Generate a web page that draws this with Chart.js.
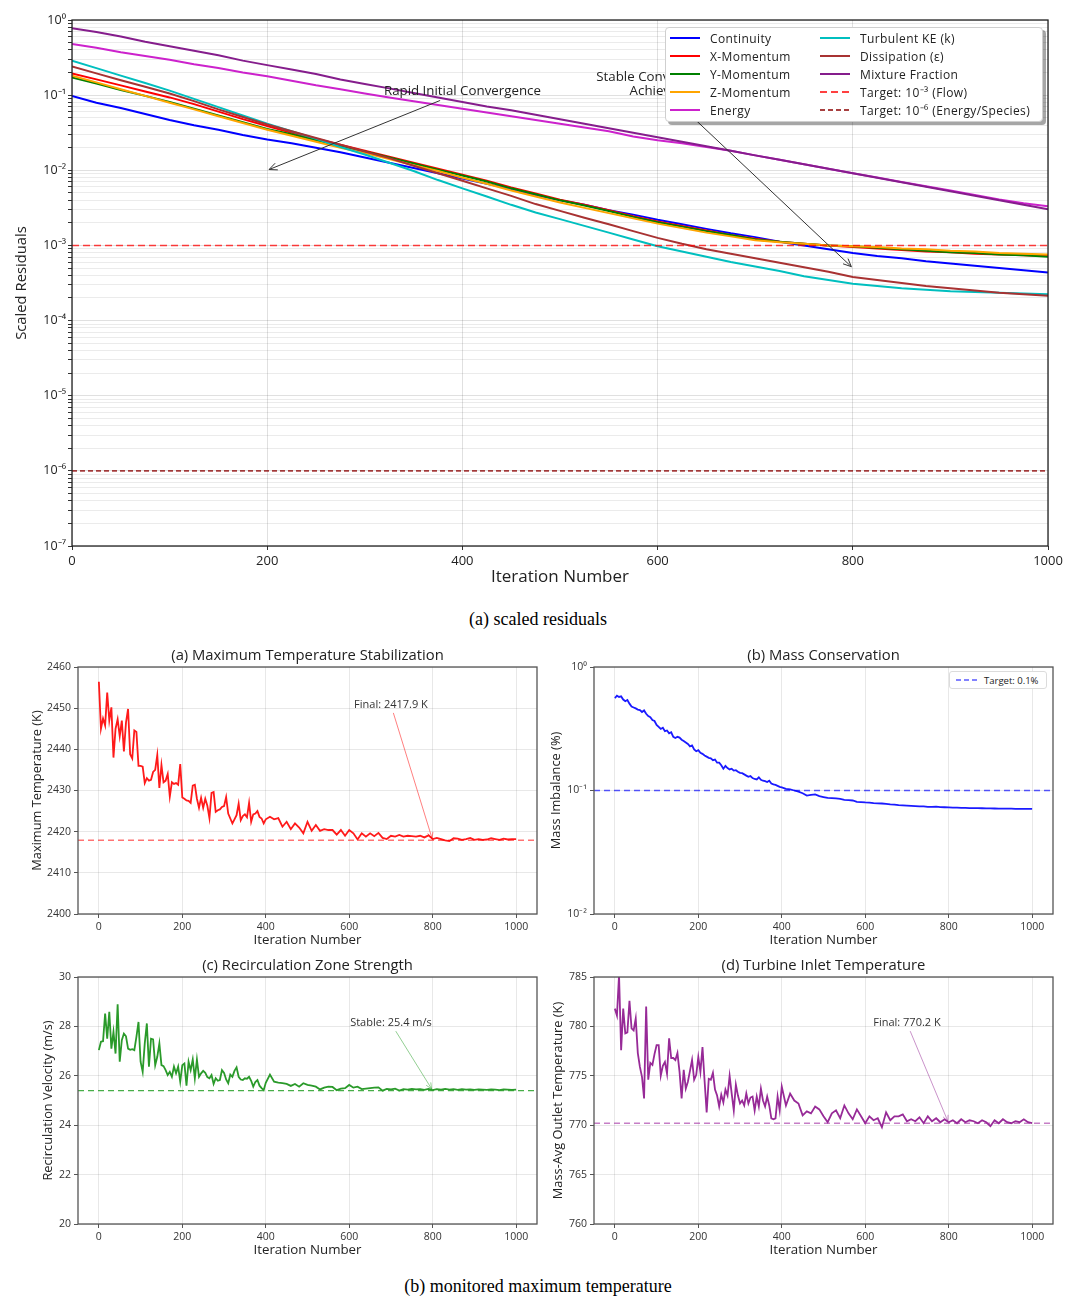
<!DOCTYPE html>
<html>
<head>
<meta charset="utf-8">
<script src="https://cdn.jsdelivr.net/npm/chart.js@4.4.1/dist/chart.umd.min.js"></script>
<style>
html,body{margin:0;padding:0;background:#fff;}
body{width:1076px;height:1301px;position:relative;overflow:hidden;font-family:"Open Sans",sans-serif;}
.wrap{position:absolute;}
canvas{display:block;}
.cap{position:absolute;left:0;width:1076px;text-align:center;font-family:"Liberation Serif","Times New Roman",serif;font-size:18px;line-height:20px;color:#000;}
.legend{position:absolute;background:#fff;box-sizing:border-box;}
.lg-item{position:absolute;display:flex;align-items:center;white-space:nowrap;color:#222;}
.lg-item svg{display:block;flex:none;}
</style>
</head>
<body>
<div class="wrap" style="left:0;top:0;"><canvas id="residuals" width="1076" height="600" style="width:1076px;height:600px;"></canvas></div>
<div class="legend" id="resLegend" style="left:665px;top:27px;width:378px;height:95px;border:1px solid #cfcfcf;border-radius:4px;box-shadow:3px 3px 0 rgba(0,0,0,0.35);"></div>
<div class="cap" style="top:609px;">(a) scaled residuals</div>

<div class="wrap" style="left:0;top:645px;"><canvas id="pA" width="545" height="305" style="width:545px;height:305px;"></canvas></div>
<div class="wrap" style="left:536px;top:645px;"><canvas id="pB" width="540" height="305" style="width:540px;height:305px;"></canvas></div>
<div class="legend" id="massLegend" style="left:949px;top:671px;width:98px;height:18px;border:1px solid #dcdcdc;border-radius:3px;"></div>
<div class="wrap" style="left:0;top:955px;"><canvas id="pC" width="545" height="305" style="width:545px;height:305px;"></canvas></div>
<div class="wrap" style="left:536px;top:955px;"><canvas id="pD" width="540" height="305" style="width:540px;height:305px;"></canvas></div>
<div class="cap" style="top:1276px;">(b) monitored maximum temperature</div>

<script>
// ================= DATA: (a) scaled residuals =================
const residualIterations = [0,25,50,75,100,125,150,175,200,225,250,275,300,325,350,375,400,425,450,475,500,
  525,550,575,600,625,650,675,700,725,750,775,800,825,850,875,900,925,950,975,1000];

const continuity = [0.0977,0.0794,0.0676,0.0562,0.0468,0.0398,0.0347,0.0295,0.0257,0.0229,0.0200,
  0.0174,0.0148,0.0126,0.0107,0.00912,0.00776,0.00661,0.00562,0.00468,0.00398,
  0.00347,0.00295,0.00257,0.00219,0.00191,0.00166,0.00145,0.00129,0.00112,0.00100,
  0.000891,0.000794,0.000724,0.000676,0.000617,0.000575,0.000537,0.000501,0.000468,0.000437];
const xMomentum = [0.195,0.162,0.135,0.112,0.0933,0.0759,0.0603,0.0479,0.0389,0.0316,0.0263,
  0.0219,0.0182,0.0151,0.0126,0.0105,0.00871,0.00724,0.00589,0.00490,0.00407,
  0.00347,0.00295,0.00245,0.00209,0.00182,0.00158,0.00138,0.00123,0.00112,0.00105,
  0.00100,0.000955,0.000912,0.000871,0.000832,0.000813,0.000776,0.000759,0.000741,0.000724];
const yMomentum = [0.172,0.143,0.117,0.0977,0.0813,0.0661,0.0537,0.0437,0.0355,0.0302,0.0251,
  0.0209,0.0178,0.0148,0.0123,0.0102,0.00851,0.00708,0.00575,0.00479,0.00398,
  0.00339,0.00288,0.00240,0.00204,0.00178,0.00155,0.00138,0.00120,0.00112,0.00105,
  0.00100,0.000977,0.000933,0.000891,0.000851,0.000813,0.000794,0.000759,0.000741,0.000708];
const zMomentum = [0.182,0.148,0.120,0.0977,0.0794,0.0646,0.0525,0.0427,0.0347,0.0288,0.0240,
  0.0200,0.0170,0.0141,0.0117,0.00977,0.00794,0.00661,0.00537,0.00447,0.00372,
  0.00316,0.00269,0.00229,0.00195,0.00170,0.00148,0.00132,0.00117,0.00110,0.00105,
  0.00100,0.000977,0.000955,0.000912,0.000891,0.000851,0.000832,0.000794,0.000776,0.000759];
const energy = [0.479,0.427,0.372,0.331,0.295,0.257,0.229,0.200,0.178,0.155,0.135,
  0.120,0.105,0.0933,0.0832,0.0741,0.0661,0.0589,0.0525,0.0468,0.0417,
  0.0372,0.0331,0.0282,0.0251,0.0229,0.0204,0.0182,0.0158,0.0138,0.0120,
  0.0105,0.00912,0.00800,0.00700,0.00615,0.00537,0.00470,0.00410,0.00365,0.00331];
const turbulentKE = [0.288,0.229,0.182,0.145,0.115,0.0891,0.0692,0.0537,0.0417,0.0331,0.0263,
  0.0204,0.0162,0.0126,0.00977,0.00741,0.00575,0.00447,0.00347,0.00275,0.00224,
  0.00182,0.00148,0.00120,0.000977,0.000832,0.000708,0.000603,0.000525,0.000457,0.000389,
  0.000347,0.000309,0.000288,0.000269,0.000257,0.000245,0.000240,0.000234,0.000229,0.000224];
const dissipation = [0.240,0.195,0.158,0.129,0.105,0.0832,0.0646,0.0513,0.0407,0.0331,0.0269,
  0.0219,0.0178,0.0145,0.0115,0.00912,0.00724,0.00575,0.00457,0.00355,0.00288,
  0.00234,0.00191,0.00155,0.00126,0.00105,0.000891,0.000776,0.000676,0.000589,0.000513,
  0.000447,0.000380,0.000347,0.000316,0.000288,0.000269,0.000251,0.000234,0.000224,0.000214];
const mixtureFraction = [0.776,0.692,0.603,0.513,0.447,0.389,0.339,0.288,0.251,0.219,0.191,
  0.162,0.141,0.123,0.107,0.0933,0.0813,0.0708,0.0631,0.0550,0.0479,
  0.0417,0.0363,0.0316,0.0275,0.0240,0.0209,0.0182,0.0158,0.0138,0.0120,
  0.0105,0.00912,0.00794,0.00692,0.00603,0.00525,0.00457,0.00398,0.00347,0.00302];

const residualNames = ['Continuity','X-Momentum','Y-Momentum','Z-Momentum','Energy',
  'Turbulent KE (k)','Dissipation (\u03b5)','Mixture Fraction'];
const residualColors = ['#0000ff','#ff0000','#008000','#ffa500','#cc22cc','#00bfbf','#a83232','#851d8c'];
const residualSeries = [continuity,xMomentum,yMomentum,zMomentum,energy,turbulentKE,dissipation,mixtureFraction];

const targetNames = ['Target: 10\u207b\u00b3 (Flow)','Target: 10\u207b\u2076 (Energy/Species)'];
const targetValues = [1e-3, 1e-6];
const targetColors = ['rgba(255,0,0,0.75)','rgba(139,0,0,0.75)'];
const targetDashes = [[7,4],[5,3]];

const residualXRange = [0, 1000];
const residualYRange = [1e-7, 1];
const iterationTicks = [0,200,400,600,800,1000];
const residualDecades = [-7,-6,-5,-4,-3,-2,-1];
const residualMantissas = [1,2,3,4,5,6,7,8,9];

const residualNotes = [
  {text:'Rapid Initial Convergence', at:[400, 0.1], target:[200, 1e-2]},
  {text:'Stable Convergence\nAchieved', at:[600, 0.1], target:[800, 5e-4]}
];

// ================= DATA: (b) monitored panels =================
const panelXRange = [-50, 1050];
const panelXTicks = [0,200,400,600,800,1000];

const maxTemperature = [
  2456.4,2445.0,2447.5,2445.8,2453.8,2447.0,2450.2,2438.0,2445.0,2447.3,
  2443.2,2447.0,2439.5,2446.5,2449.8,2438.8,2437.8,2444.6,2444.2,2436.0,
  2436.0,2435.8,2431.8,2433.0,2432.4,2432.6,2434.5,2435.0,2438.6,2430.6,
  2436.2,2432.0,2432.4,2434.0,2428.5,2432.0,2431.6,2431.8,2431.4,2436.4,
  2428.3,2428.0,2427.6,2427.5,2427.0,2431.2,2431.4,2428.0,2425.8,2428.2,
  2425.8,2428.0,2426.3,2423.3,2429.4,2429.6,2424.8,2425.2,2425.4,2426.0,
  2426.2,2428.4,2424.4,2423.2,2422.0,2423.0,2424.0,2426.8,2422.8,2423.8,
  2424.2,2423.5,2427.0,2422.4,2424.2,2424.4,2425.0,2423.6,2423.2,2422.0,
  2423.0,
  2423.6,2423.0,2423.3,2421.2,2422.4,2420.6,2422.0,2421.0,2419.6,2422.4,
  2420.2,2421.6,2420.2,2420.6,2420.4,2420.4,2419.3,2420.4,2419.0,2420.4,
  2419.6,2418.1,2419.6,2418.8,2419.6,2418.9,2419.7,2418.5,2418.2,2419.0,
  2418.8,2419.2,2418.8,2419.0,2418.9,2418.8,2419.0,2418.6,2419.1,2418.2,
  2418.5,2418.2,2417.9,2417.7,2418.4,2418.3,2418.0,2418.2,2418.5,2418.0,
  2418.2,2418.0,2418.1,2418.4,2418.2,2418.0,2418.3,2418.1,2418.2,2418.2];
const massImbalance = [
  0.560,0.585,0.572,0.578,0.545,0.528,0.540,0.505,0.478,0.470,
  0.462,0.452,0.448,0.432,0.445,0.418,0.400,0.392,0.372,0.365,
  0.340,0.328,0.315,0.322,0.302,0.306,0.290,0.296,0.272,0.266,
  0.272,0.268,0.258,0.252,0.245,0.238,0.228,0.232,0.215,0.208,
  0.212,0.202,0.198,0.192,0.188,0.184,0.182,0.176,0.178,0.168,
  0.168,0.160,0.150,0.158,0.152,0.148,0.150,0.145,0.146,0.142,
  0.139,0.138,0.135,0.132,0.129,0.131,0.126,0.124,0.123,0.128,
  0.122,0.120,0.119,0.117,0.120,0.114,0.112,0.111,0.109,0.107,
  0.106,
  0.103,0.102,0.100,0.098,0.095,0.091,0.092,0.093,0.090,0.0885,
  0.0870,0.0868,0.0862,0.0855,0.0840,0.0835,0.0830,0.0810,0.0805,0.0800,
  0.0798,0.0790,0.0788,0.0785,0.0780,0.0772,0.0768,0.0762,0.0758,0.0755,
  0.0752,0.0748,0.0744,0.0745,0.0738,0.0736,0.0740,0.0734,0.0732,0.0730,
  0.0728,0.0727,0.0724,0.0722,0.0720,0.0721,0.0719,0.0718,0.0716,0.0717,
  0.0715,0.0714,0.0713,0.0713,0.0712,0.0711,0.0711,0.0710,0.0710,0.0709];
const recirculationVelocity = [
  27.04,27.38,27.40,28.52,27.50,28.59,27.10,27.78,26.90,28.90,
  26.57,27.44,27.71,27.60,27.10,27.05,27.08,27.04,27.58,28.18,
  26.57,26.16,27.31,28.12,26.37,27.50,27.47,26.43,26.77,27.31,
  26.43,26.39,26.23,26.03,26.16,25.96,26.37,26.10,26.37,25.76,
  26.43,26.50,25.60,26.57,26.23,26.66,25.90,26.66,25.96,26.10,
  26.20,26.12,25.95,25.90,26.03,25.67,25.90,25.80,25.83,26.23,
  26.12,25.85,25.70,26.05,25.96,26.20,26.34,25.96,25.85,25.83,
  25.90,25.88,25.96,25.80,25.56,25.75,25.83,25.60,25.50,25.42,
  25.72,
  26.05,25.76,25.72,25.70,25.67,25.59,25.67,25.56,25.70,25.63,
  25.60,25.56,25.45,25.52,25.56,25.55,25.42,25.48,25.50,25.63,
  25.52,25.56,25.46,25.48,25.50,25.52,25.53,25.40,25.47,25.45,
  25.48,25.40,25.46,25.44,25.47,25.45,25.46,25.43,25.47,25.42,
  25.46,25.44,25.47,25.44,25.46,25.43,25.46,25.44,25.45,25.43,
  25.45,25.44,25.43,25.45,25.44,25.42,25.45,25.44,25.43,25.44];
const outletTemperature = [
  781.8,781.1,785.2,777.6,781.8,779.3,779.4,782.6,779.8,779.6,
  780.8,777.3,775.9,774.9,772.7,782.0,774.6,776.3,776.1,777.2,
  778.1,778.1,775.0,776.0,776.4,775.2,778.8,776.8,776.8,776.6,
  777.3,775.4,772.7,775.6,773.7,774.4,775.5,776.6,774.6,775.1,
  776.9,775.4,777.9,774.5,771.3,774.7,774.6,775.3,773.6,773.0,
  771.9,773.1,772.3,773.6,773.0,775.0,773.2,771.5,774.1,773.0,
  772.2,772.5,772.0,773.2,772.2,772.8,772.9,771.5,772.9,771.9,
  773.7,772.5,771.9,772.9,772.0,770.7,770.6,770.7,772.9,771.5,
  773.9,
  772.0,773.2,772.5,772.2,771.0,771.4,771.2,771.9,771.6,770.9,
  770.3,771.2,771.5,770.7,772.0,771.2,770.6,771.6,770.9,770.2,
  770.9,770.5,770.7,769.8,771.3,770.5,770.9,770.9,771.1,770.4,
  770.6,770.4,770.8,770.2,770.9,770.4,770.7,770.3,770.6,770.3,
  770.5,770.2,770.6,770.3,770.5,770.4,770.2,770.5,770.3,769.9,
  770.5,770.2,770.6,770.3,770.2,770.4,770.3,770.6,770.3,770.2];

// iteration grid of the monitors: every 5 up to 400, then every 10
const panelIterations = [];
for (let i = 0; i <= 400; i += 5) panelIterations.push(i);
for (let i = 410; i <= 1000; i += 10) panelIterations.push(i);

const maxTempTicks = [2400,2410,2420,2430,2440,2450,2460];
const massTicks = [0.01, 0.1, 1];
const velocityTicks = [20,22,24,26,28,30];
const outletTicks = [760,765,770,775,780,785];

const finalMaxTemp = 2417.9;
const massTarget = 0.1;
const stableVelocity = 25.4;
const finalOutletTemp = 770.2;

// ================= helpers / plugins =================
const FONT = "'Open Sans', sans-serif";
Chart.defaults.font.family = FONT;
Chart.defaults.color = '#262626';

const SUP = {'-':'\u207b','0':'\u2070','1':'\u00b9','2':'\u00b2','3':'\u00b3','4':'\u2074','5':'\u2075','6':'\u2076','7':'\u2077','8':'\u2078','9':'\u2079'};
function powerLabel(v) {
  const e = Math.log10(v), r = Math.round(e);
  if (Math.abs(e - r) > 1e-6) return '';
  return '10' + String(r).split('').map(c => SUP[c]).join('');
}
const isPower = v => { const e = Math.log10(v); return Math.abs(e - Math.round(e)) < 1e-6; };

const residualTicks = [];
residualDecades.forEach(d => residualMantissas.forEach(m => residualTicks.push(Number((m * Math.pow(10, d)).toPrecision(6)))));
residualTicks.push(residualYRange[1]);

const framePlugin = {
  id: 'frame',
  afterDatasetsDraw(chart, args, o) {
    const {ctx, chartArea: a} = chart;
    ctx.save();
    ctx.strokeStyle = o.color || '#222';
    ctx.lineWidth = o.width || 1.2;
    ctx.strokeRect(a.left, a.top, a.right - a.left, a.bottom - a.top);
    ctx.restore();
  }
};

const panelTitlePlugin = {
  id: 'panelTitle',
  afterDraw(chart, args, o) {
    if (!o.text) return;
    const {ctx, chartArea: a} = chart;
    ctx.save();
    ctx.font = `${o.size}px ${FONT}`;
    ctx.fillStyle = '#222';
    ctx.textAlign = 'center';
    ctx.textBaseline = 'middle';
    ctx.fillText(o.text, (a.left + a.right) / 2, a.top - o.offset);
    ctx.restore();
  }
};

const notesPlugin = {
  id: 'notes',
  afterDatasetsDraw(chart, args, o) {
    const items = o.items || [];
    const {ctx, scales} = chart;
    items.forEach(n => {
      const size = n.size;
      ctx.save();
      ctx.font = `${size}px ${FONT}`;
      const lines = n.text.split('\n');
      const lh = size * 1.1;
      const tx = scales.x.getPixelForValue(n.at[0]);
      const ty = scales.y.getPixelForValue(n.at[1]);
      const w = Math.max(...lines.map(l => ctx.measureText(l).width));
      const top = ty - (lines.length - 1) * lh - size * 0.8;
      const bottom = ty + size * 0.25;
      const cx = tx, cy = (top + bottom) / 2;
      const px = scales.x.getPixelForValue(n.target[0]);
      const py = scales.y.getPixelForValue(n.target[1]);
      const dx = px - cx, dy = py - cy;
      const hw = w / 2 + 2, hh = (bottom - top) / 2 + 2;
      const t = Math.min(dx !== 0 ? hw / Math.abs(dx) : Infinity, dy !== 0 ? hh / Math.abs(dy) : Infinity);
      const sx = cx + dx * t, sy = cy + dy * t;
      const len = Math.hypot(px - sx, py - sy);
      const ux = (px - sx) / len, uy = (py - sy) / len;
      const ex = px - ux * 2, ey = py - uy * 2;
      ctx.strokeStyle = n.arrowColor;
      ctx.lineWidth = n.lw;
      ctx.beginPath();
      ctx.moveTo(sx, sy);
      ctx.lineTo(ex, ey);
      const hl = n.head, hwid = n.head * 0.45;
      ctx.moveTo(ex - ux * hl + uy * hwid, ey - uy * hl - ux * hwid);
      ctx.lineTo(ex, ey);
      ctx.lineTo(ex - ux * hl - uy * hwid, ey - uy * hl + ux * hwid);
      ctx.stroke();
      ctx.fillStyle = n.textColor;
      ctx.textAlign = 'center';
      ctx.textBaseline = 'alphabetic';
      lines.forEach((l, i) => ctx.fillText(l, tx, ty - (lines.length - 1 - i) * lh));
      ctx.restore();
    });
  }
};

function buildLegend(el, entries, opt) {
  entries.forEach((e, i) => {
    const col = Math.floor(i / opt.rows), row = i % opt.rows;
    const item = document.createElement('div');
    item.className = 'lg-item';
    item.style.left = opt.colX[col] + 'px';
    item.style.top = (opt.top + row * opt.rowH) + 'px';
    item.style.height = opt.rowH + 'px';
    item.style.fontSize = opt.font + 'px';
    item.style.letterSpacing = opt.spacing + 'px';
    const dash = e.dash ? `stroke-dasharray="${e.dash.join(' ')}"` : '';
    item.innerHTML = `<svg width="${opt.sw}" height="8"><line x1="0" y1="4" x2="${opt.sw}" y2="4" stroke="${e.color}" stroke-width="${opt.lw}" ${dash}/></svg><span style="margin-left:${opt.gap}px">${e.label}</span>`;
    el.appendChild(item);
  });
}

// ================= chart (a): scaled residuals =================
const N = residualSeries.length;
const resDatasets = residualSeries.map((s, i) => ({
  label: residualNames[i],
  data: residualIterations.map((x, j) => ({x, y: s[j]})),
  borderColor: residualColors[i],
  borderWidth: 2,
  pointRadius: 0,
  fill: false,
  order: N + 2 - i
}));
targetValues.forEach((v, i) => resDatasets.push({
  label: targetNames[i],
  data: residualXRange.map(x => ({x, y: v})),
  borderColor: targetColors[i],
  borderWidth: 1.6,
  borderDash: targetDashes[i],
  pointRadius: 0,
  fill: false,
  order: 1 - i
}));

const resChart = new Chart(document.getElementById('residuals'), {
  type: 'line',
  data: {datasets: resDatasets},
  plugins: [framePlugin, notesPlugin],
  options: {
    responsive: false, animation: false,
    layout: {padding: {left: 0, top: 20, right: 28, bottom: 0}},
    plugins: {
      legend: {display: false}, tooltip: {enabled: false},
      frame: {color: '#222', width: 1.3},
      notes: {items: residualNotes.map(n => ({...n, size: 13.3, textColor: '#222', arrowColor: '#333', lw: 1, head: 8}))}
    },
    scales: {
      x: {
        type: 'linear', min: residualXRange[0], max: residualXRange[1],
        afterBuildTicks: s => { s.ticks = iterationTicks.map(v => ({value: v})); },
        afterFit: s => { s.height = 54; },
        ticks: {autoSkip: false, maxRotation: 0, padding: 3, font: {size: 13}, color: '#222', callback: v => String(v)},
        grid: {color: 'rgba(0,0,0,0.12)', tickColor: '#333', tickLength: 4},
        border: {display: false},
        title: {display: true, text: 'Iteration Number', font: {size: 17}, color: '#222', padding: {top: 0, bottom: 12.8}}
      },
      y: {
        type: 'logarithmic', min: residualYRange[0], max: residualYRange[1],
        afterBuildTicks: s => { s.ticks = residualTicks.map(v => ({value: v})); },
        afterFit: s => { s.width = 72; },
        ticks: {autoSkip: false, padding: 2, font: {size: 12.5}, color: '#222', callback: v => powerLabel(v)},
        grid: {
          color: c => (c.tick && isPower(c.tick.value)) ? 'rgba(0,0,0,0.12)' : 'rgba(0,0,0,0.08)',
          tickColor: '#333', tickLength: 4
        },
        border: {display: false},
        title: {display: true, text: 'Scaled Residuals', font: {size: 14.8}, color: '#222', padding: {top: 13.1, bottom: 0}}
      }
    }
  }
});

buildLegend(document.getElementById('resLegend'),
  resChart.data.datasets.map(d => ({label: d.label, color: d.borderColor, dash: d.borderDash})),
  {rows: 5, colX: [4, 154], top: 1, rowH: 18, sw: 30, lw: 2, gap: 10, font: 12, spacing: 0.4});

// ================= panels =================
function panel(id, p) {
  return new Chart(document.getElementById(id), {
    type: 'line',
    data: {datasets: [
      {label: p.label, data: panelIterations.map((x, i) => ({x, y: p.values[i]})), borderColor: p.color, borderWidth: 1.8, pointRadius: 0, fill: false, order: 1},
      {label: p.targetLabel, data: panelXRange.map(x => ({x, y: p.target})), borderColor: p.targetColor, borderWidth: 1.4, borderDash: [6, 4], pointRadius: 0, fill: false, order: 0}
    ]},
    plugins: [framePlugin, notesPlugin, panelTitlePlugin],
    options: {
      responsive: false, animation: false,
      layout: {padding: {left: 0, top: 22, right: p.padRight, bottom: 0}},
      plugins: {
        legend: {display: false}, tooltip: {enabled: false},
        frame: {color: '#555', width: 1.3},
        panelTitle: {text: p.title, size: 14.8, offset: 11},
        notes: {items: p.note ? [{...p.note, size: 11, textColor: '#333', lw: 1, head: 6}] : []}
      },
      scales: {
        x: {
          type: 'linear', min: panelXRange[0], max: panelXRange[1],
          afterBuildTicks: s => { s.ticks = panelXTicks.map(v => ({value: v})); },
          afterFit: s => { s.height = 36; },
          ticks: {autoSkip: false, maxRotation: 0, padding: 3, font: {size: 10.5}, color: '#333', callback: v => String(v)},
          grid: {color: 'rgba(0,0,0,0.09)', tickColor: '#555', tickLength: 4},
          border: {display: false},
          title: {display: true, text: 'Iteration Number', font: {size: 13.3}, color: '#222', padding: {top: 0, bottom: 2}}
        },
        y: {
          type: p.log ? 'logarithmic' : 'linear', min: p.yMin, max: p.yMax,
          afterBuildTicks: s => { s.ticks = p.yTicks.map(v => ({value: v})); },
          afterFit: s => { s.width = p.axisW; },
          ticks: {autoSkip: false, padding: 3, font: {size: 10.5}, color: '#333', callback: p.log ? (v => powerLabel(v)) : (v => String(v))},
          grid: {color: 'rgba(0,0,0,0.09)', tickColor: '#555', tickLength: 4},
          border: {display: false},
          title: {display: true, text: p.yTitle, font: {size: 12.8}, color: '#222', padding: {top: p.titlePad, bottom: 0}}
        }
      }
    }
  });
}

panel('pA', {
  label: 'Maximum Temperature', values: maxTemperature, color: '#ff1a1a',
  targetLabel: 'Final', target: finalMaxTemp, targetColor: 'rgba(255,0,0,0.55)',
  title: '(a) Maximum Temperature Stabilization', yTitle: 'Maximum Temperature (K)',
  yMin: maxTempTicks[0], yMax: maxTempTicks[maxTempTicks.length - 1], yTicks: maxTempTicks,
  axisW: 78, padRight: 8, titlePad: 29.3,
  note: {text: 'Final: ' + finalMaxTemp.toFixed(1) + ' K', at: [700, 2450], target: [800, finalMaxTemp], arrowColor: 'rgba(255,0,0,0.5)'}
});
const massChart = panel('pB', {
  label: 'Mass Imbalance', values: massImbalance, color: '#1a1aff',
  targetLabel: 'Target: 0.1%', target: massTarget, targetColor: 'rgba(0,0,255,0.65)',
  title: '(b) Mass Conservation', yTitle: 'Mass Imbalance (%)', log: true,
  yMin: massTicks[0], yMax: massTicks[massTicks.length - 1], yTicks: massTicks,
  axisW: 58, padRight: 23, titlePad: 12.3, note: null
});
panel('pC', {
  label: 'Recirculation Velocity', values: recirculationVelocity, color: '#2a9a2a',
  targetLabel: 'Stable', target: stableVelocity, targetColor: 'rgba(40,160,40,0.85)',
  title: '(c) Recirculation Zone Strength', yTitle: 'Recirculation Velocity (m/s)',
  yMin: velocityTicks[0], yMax: velocityTicks[velocityTicks.length - 1], yTicks: velocityTicks,
  axisW: 78, padRight: 8, titlePad: 40.3,
  note: {text: 'Stable: ' + stableVelocity.toFixed(1) + ' m/s', at: [700, 28], target: [800, stableVelocity], arrowColor: 'rgba(40,160,40,0.5)'}
});
panel('pD', {
  label: 'Outlet Temperature', values: outletTemperature, color: '#972a97',
  targetLabel: 'Final', target: finalOutletTemp, targetColor: 'rgba(160,40,160,0.6)',
  title: '(d) Turbine Inlet Temperature', yTitle: 'Mass-Avg Outlet Temperature (K)',
  yMin: outletTicks[0], yMax: outletTicks[outletTicks.length - 1], yTicks: outletTicks,
  axisW: 58, padRight: 23, titlePad: 14.3,
  note: {text: 'Final: ' + finalOutletTemp.toFixed(1) + ' K', at: [700, 780], target: [800, finalOutletTemp], arrowColor: 'rgba(150,40,150,0.5)'}
});

const massTargetDs = massChart.data.datasets[1];
buildLegend(document.getElementById('massLegend'),
  [{label: massTargetDs.label, color: massTargetDs.borderColor, dash: [5, 3]}],
  {rows: 1, colX: [6], top: 0, rowH: 16, sw: 21, lw: 1.5, gap: 7, font: 9.5, spacing: 0});
</script>
</body>
</html>
